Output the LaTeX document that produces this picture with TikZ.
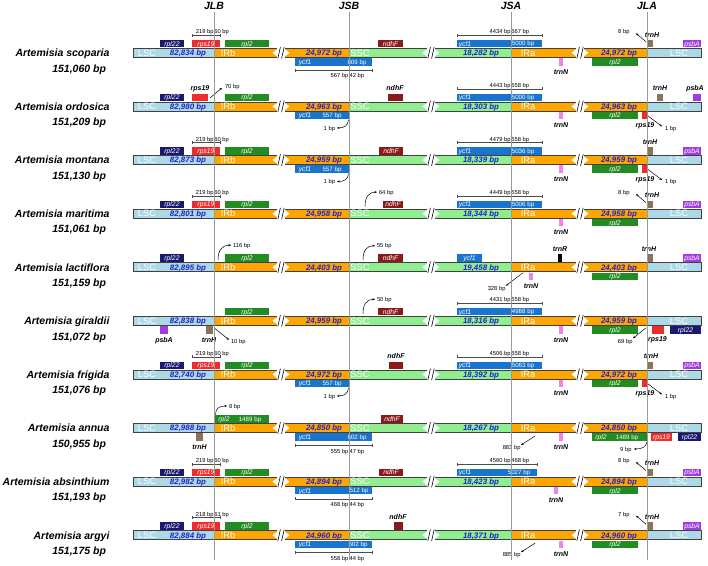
\documentclass[tikz,border=0pt]{standalone}
\usepackage{fontspec}
\setmainfont{Liberation Sans}
\usetikzlibrary{arrows.meta}
\definecolor{cLSC}{HTML}{ADD8E6}
\definecolor{cIR}{HTML}{FFA500}
\definecolor{cSSC}{HTML}{90EE90}
\definecolor{cval}{HTML}{2020D0}
\definecolor{crpl22}{HTML}{191970}
\definecolor{crps19}{HTML}{EE2C2C}
\definecolor{crpl2}{HTML}{228B22}
\definecolor{cycf}{HTML}{1874CD}
\definecolor{cndhF}{HTML}{8B1A1A}
\definecolor{ctrnN}{HTML}{EE82EE}
\definecolor{ctrnH}{HTML}{8B7355}
\definecolor{cpsbA}{HTML}{A03CE0}
\tikzset{
 every node/.style={inner sep=0pt, outer sep=0pt},
 sp/.style={font=\fontsize{10.5}{12}\selectfont\bfseries\itshape, anchor=base east},
 jl/.style={font=\fontsize{10.5}{12}\selectfont\bfseries\itshape, anchor=base},
 reg/.style={text=white, font=\fontsize{9.3}{10}\selectfont, text height=6.7pt, text depth=0pt},
 val/.style={text=cval, font=\fontsize{7.9}{9}\selectfont\bfseries\itshape, text height=5.7pt, text depth=0pt},
 gl/.style={text=white, font=\fontsize{6.8}{8}\selectfont\itshape, text height=4.9pt, text depth=0pt},
 gw/.style={text=white, font=\fontsize{6.2}{7}\selectfont, text height=4.5pt, text depth=0pt},
 gn/.style={font=\fontsize{7}{8}\selectfont\bfseries\itshape, text height=5pt, text depth=0pt},
 bpl/.style={font=\fontsize{5.8}{7}\selectfont, text height=4.2pt, text depth=0pt},
 barline/.style={draw=black!75, line width=0.8pt},
 dimln/.style={draw=black!70, line width=0.45pt},
 arr/.style={draw=black, line width=0.5pt, -{Stealth[length=2.6pt,width=2.2pt]}},
 jline/.style={draw=black!40, line width=0.8pt},
 brkline/.style={draw=black, line width=0.6pt},
}
\newcommand\Brk[1]{%
 \fill[white] (#1-4,-5.3) rectangle (#1+4,5.3);
 \fill[white] (#1-4,-3.4) -- (#1-8.5,0) -- (#1-4,3.4) -- cycle;
 \fill[white] (#1+4,-3.4) -- (#1+8.5,0) -- (#1+4,3.4) -- cycle;
 \draw[brkline] (#1-3.2,5.8) -- (#1-0.6,-5.8) (#1+0.6,5.8) -- (#1+3.2,-5.8);}
\newcommand\Bar[4]{%
 \fill[cLSC] (133,-4.5) rectangle (214,4.5);
 \fill[cIR] (214,-4.5) rectangle (349,4.5);
 \fill[cSSC] (349,-4.5) rectangle (511,4.5);
 \fill[cIR] (511,-4.5) rectangle (647,4.5);
 \fill[cLSC] (647,-4.5) rectangle (701,4.5);
 \draw[barline] (133,-4.5) rectangle (701,4.5);
 \Brk{281}\Brk{431}\Brk{580}
 \node[reg] at (147,0) {LSC}; \node[val] at (188,0) {#1};
 \node[reg] at (228,0) {IRb}; \node[val] at (324,0) {#2};
 \node[reg] at (360,0) {SSC}; \node[val] at (481,0) {#3};
 \node[reg] at (528,0) {IRa}; \node[val] at (619,0) {#4};
 \node[reg] at (679,0) {LSC};}
\newcommand\Sp[2]{\node[sp] at (109.5,3.8) {#1}; \node[sp] at (106,19.3) {#2};}
\newcommand\GA[4]{\fill[#3] (#1,-12.8) rectangle (#2,-5.4); \node[gl] at ({(#1+#2)/2},-9.1) {#4};}
\newcommand\GB[4]{\fill[#3] (#1,5.4) rectangle (#2,12.8); \node[gl] at ({(#1+#2)/2},9.1) {#4};}
\newcommand\DT[5]{%
 \draw[dimln] (#1,-17.5) -- (#3,-17.5) (#1,-19) -- (#1,-16) (#3,-19) -- (#3,-16) (#2,-18.5) -- (#2,-16.5);
 \node[bpl,anchor=base east] at (#2-0.4,-19) {#4};
 \node[bpl,anchor=base west] at (#2+0.4,-19) {#5};}
\newcommand\DB[5]{%
 \draw[dimln] (#1,17.2) -- (#3,17.2) (#1,15.7) -- (#1,18.7) (#3,15.7) -- (#3,18.7) (#2,15.7) -- (#2,18.7);
 \node[bpl,anchor=base east] at (#2-0.6,25) {#4};
 \node[bpl,anchor=base west] at (#2+0.6,25) {#5};}
\newcommand\YB[3]{\fill[cycf] (295,5.4) rectangle (#1,12.8); \node[gl] at (305,9.1) {ycf1}; \node[gw] at (#3,9.1) {#2};}
\newcommand\YA[3]{\fill[cycf] (457,-12.8) rectangle (#1,-5.4); \node[gl] at (465,-9.1) {ycf1}; \node[gw] at (#3,-9.1) {#2};}
\newcommand\TN[2]{\fill[ctrnN] (#1,5.4) rectangle (#2,12.8); \node[gn] at ({(#1+#2)/2},18.8) {trnN};}
\newcommand\LeftStd[2]{%
 \GA{160}{184}{crpl22}{rpl22}
 \GA{192}{220}{crps19}{rps19}
 \GA{225}{269}{crpl2}{rpl2}
 \DT{192}{214}{220}{#1}{#2}}
\newcommand\OneBp{\draw[arr] (348.5,13.5) .. controls (348,19.5) and (344,21.5) .. (337,21.5); \node[bpl,anchor=east] at (335,21.5) {1 bp};}
\newcommand\RpsR{\GB{642}{647}{crps19}{} \node[gn] at (645,18.8) {rps19};
 \draw[arr] (648,9.5) -- (662,20); \node[bpl,anchor=west] at (665,21.6) {1 bp};}
\newcommand\TrnHArr[1]{\GA{647}{653}{ctrnH}{} \node[gn] at (652,-18.2) {trnH};
 \draw[arr] (646,-11) -- (636,-19.5); \node[bpl,anchor=east] at (629.5,-21.3) {#1};}
\newcommand\PsbA{\GA{683}{701}{cpsbA}{psbA}}
\newcommand\RplR{\GB{592}{638}{crpl2}{rpl2}}
\begin{document}
\begin{tikzpicture}[x=1pt,y=-1pt]
\useasboundingbox (0,0) rectangle (708,565);
\fill[white] (0,0) rectangle (708,565);
\node[jl] (jlb) at (214,9.5) {JLB};
\node[jl] (jsb) at (349,9.5) {JSB};
\node[jl] (jsa) at (511,9.5) {JSA};
\node[jl] (jla) at (647,9.5) {JLA};
% Row 1
\begin{scope}[shift={(0,52.8)}]
\Sp{Artemisia scoparia}{151,060 bp}
\Bar{82,834 bp}{24,972 bp}{18,282 bp}{24,972 bp}
\LeftStd{219 bp}{60 bp}
\YB{372}{609 bp}{357}
\DB{295}{349}{372}{567 bp}{42 bp}
\GA{378}{403}{cndhF}{ndhF}
\YA{542}{5000 bp}{523}
\DT{457}{511}{542}{4434 bp}{567 bp}
\TN{559}{563}
\RplR
\TrnHArr{8 bp}
\PsbA
\end{scope}
% Row 2
\begin{scope}[shift={(0,106.4)}]
\Sp{Artemisia ordosica}{151,209 bp}
\Bar{82,980 bp}{24,963 bp}{18,303 bp}{24,963 bp}
\GA{160}{184}{crpl22}{rpl22}
\GA{192}{208}{crps19}{}
\node[gn] at (200,-18.2) {rps19};
\draw[arr] (210,-8.5) -- (222,-18.5); \node[bpl,anchor=west] at (225,-20) {70 bp};
\GA{225}{269}{crpl2}{rpl2}
\YB{349}{557 bp}{332}
\OneBp
\GA{388}{403}{cndhF}{} \node[gn] at (395,-18.2) {ndhF};
\YA{542}{5000 bp}{523}
\DT{457}{511}{542}{4443 bp}{558 bp}
\TN{559}{563}
\RplR
\RpsR
\GA{657}{663}{ctrnH}{} \node[gn] at (660,-18.2) {trnH};
\GA{693}{701}{cpsbA}{} \node[gn] at (695,-18.2) {psbA};
\end{scope}
% Row 3
\begin{scope}[shift={(0,160)}]
\Sp{Artemisia montana}{151,130 bp}
\Bar{82,873 bp}{24,959 bp}{18,339 bp}{24,959 bp}
\LeftStd{219 bp}{60 bp}
\YB{349}{557 bp}{332}
\OneBp
\GA{379}{403}{cndhF}{ndhF}
\YA{542}{5036 bp}{523}
\DT{457}{511}{542}{4479 bp}{558 bp}
\TN{559}{563}
\RplR
\RpsR
\GA{647}{653}{ctrnH}{} \node[gn] at (650,-18.2) {trnH};
\PsbA
\end{scope}
% Row 4
\begin{scope}[shift={(0,213.6)}]
\Sp{Artemisia maritima}{151,061 bp}
\Bar{82,801 bp}{24,958 bp}{18,344 bp}{24,958 bp}
\LeftStd{219 bp}{60 bp}
\GA{383}{403}{cndhF}{ndhF}
\draw[arr] (365,-7) .. controls (365,-17) and (369,-21.5) .. (377,-21.5); \node[bpl,anchor=west] at (379,-21.5) {64 bp};
\YA{542}{5006 bp}{523}
\DT{457}{511}{542}{4449 bp}{558 bp}
\TN{559}{563}
\RplR
\TrnHArr{8 bp}
\PsbA
\end{scope}
% Row 5
\begin{scope}[shift={(0,267.2)}]
\Sp{Artemisia lactiflora}{151,159 bp}
\Bar{82,895 bp}{24,403 bp}{19,458 bp}{24,403 bp}
\GA{160}{184}{crpl22}{rpl22}
\GA{225}{269}{crpl2}{rpl2}
\draw[arr] (218,-7) .. controls (218,-17) and (222,-22) .. (231,-22); \node[bpl,anchor=west] at (233,-22) {116 bp};
\GA{378}{403}{cndhF}{ndhF}
\draw[arr] (363,-7) .. controls (363,-17) and (367,-21.5) .. (375,-21.5); \node[bpl,anchor=west] at (377,-21.5) {55 bp};
\GA{457}{482}{cycf}{ycf1}
\GA{558}{562}{black}{} \node[gn] at (560,-18.2) {trnR};
\GA{647}{653}{ctrnH}{} \node[gn] at (649,-18.2) {trnH};
\PsbA
\GB{529}{533}{ctrnN}{} \node[gn] at (531,18.8) {trnN};
\draw[arr] (523,5.5) -- (506,18.5); \node[bpl,anchor=east] at (505.5,21) {328 bp};
\RplR
\end{scope}
% Row 6
\begin{scope}[shift={(0,320.8)}]
\Sp{Artemisia giraldii}{151,072 bp}
\Bar{82,838 bp}{24,959 bp}{18,316 bp}{24,959 bp}
\GA{225}{269}{crpl2}{rpl2}
\GB{160}{168}{cpsbA}{} \node[gn] at (164,18.8) {psbA};
\GB{206}{213}{ctrnH}{} \node[gn] at (209,18.8) {trnH};
\draw[arr] (214,7) -- (229,19); \node[bpl,anchor=west] at (231,20.5) {10 bp};
\GA{378}{403}{cndhF}{ndhF}
\draw[arr] (363,-7) .. controls (363,-17) and (367,-21.5) .. (375,-21.5); \node[bpl,anchor=west] at (377,-21.5) {50 bp};
\YA{542}{4988 bp}{523}
\DT{457}{511}{542}{4431 bp}{558 bp}
\TN{559}{563}
\RplR
\GB{652}{664}{crps19}{} \node[gn] at (657.5,18.5) {rps19};
\draw[arr] (646,7) -- (633,17.5); \node[bpl,anchor=east] at (632.5,21) {69 bp};
\GB{670}{701}{crpl22}{rpl22}
\end{scope}
% Row 7
\begin{scope}[shift={(0,374.4)}]
\Sp{Artemisia frigida}{151,076 bp}
\Bar{82,740 bp}{24,972 bp}{18,392 bp}{24,972 bp}
\LeftStd{219 bp}{60 bp}
\YB{349}{557 bp}{332}
\OneBp
\GA{389}{403}{cndhF}{} \node[gn] at (396,-18.2) {ndhF};
\YA{542}{5063 bp}{523}
\DT{457}{511}{542}{4506 bp}{558 bp}
\TN{559}{563}
\RplR
\RpsR
\GA{647}{653}{ctrnH}{} \node[gn] at (651,-18.2) {trnH};
\PsbA
\end{scope}
% Row 8
\begin{scope}[shift={(0,428)}]
\Sp{Artemisia annua}{150,955 bp}
\Bar{82,988 bp}{24,850 bp}{18,267 bp}{24,850 bp}
\GA{214}{269}{crpl2}{} \node[gl] at (224,-9.1) {rpl2}; \node[gw] at (250,-9.1) {1489 bp};
\draw[arr] (215.5,-13.5) .. controls (215.5,-19.5) and (219,-22) .. (227,-22); \node[bpl,anchor=west] at (229,-22) {8 bp};
\GB{196}{203}{ctrnH}{} \node[gn] at (199.5,18.8) {trnH};
\YB{372}{602 bp}{357}
\DB{295}{349}{372}{555 bp}{47 bp}
\GA{381}{403}{cndhF}{ndhF}
\draw[arr] (535,8) -- (521,17); \node[bpl,anchor=east] at (520.5,19.5) {883 bp};
\TN{559}{563}
\GB{592}{647}{crpl2}{} \node[gl] at (601,9.1) {rpl2}; \node[gw] at (627,9.1) {1489 bp};
\GB{651}{672}{crps19}{rps19}
\GB{678}{701}{crpl22}{rpl22}
\draw[arr] (647,13.5) .. controls (646.5,19) and (642,21) .. (634,21); \node[bpl,anchor=east] at (631.5,21) {9 bp};
\end{scope}
% Row 9
\begin{scope}[shift={(0,481.6)}]
\Sp{Artemisia absinthium}{151,193 bp}
\Bar{82,982 bp}{24,894 bp}{18,423 bp}{24,894 bp}
\LeftStd{219 bp}{60 bp}
\YB{372}{512 bp}{359}
\DB{295}{349}{372}{468 bp}{44 bp}
\GA{379}{403}{cndhF}{ndhF}
\YA{537}{5027 bp}{519}
\DT{457}{511}{537}{4560 bp}{468 bp}
\TN{554}{558}
\RplR
\TrnHArr{8 bp}
\PsbA
\end{scope}
% Row 10
\begin{scope}[shift={(0,535.2)}]
\Sp{Artemisia argyi}{151,175 bp}
\Bar{82,884 bp}{24,960 bp}{18,371 bp}{24,960 bp}
\LeftStd{218 bp}{61 bp}
\YB{372}{602 bp}{358}
\DB{295}{349}{372}{558 bp}{44 bp}
\GA{394}{403}{cndhF}{} \node[gn] at (398,-18.2) {ndhF};
\draw[arr] (535,8) -- (521,17); \node[bpl,anchor=east] at (520.5,19.5) {885 bp};
\TN{559}{563}
\RplR
\TrnHArr{7 bp}
\PsbA
\end{scope}
% junction lines
\draw[jline] (jlb.south) ++(0,2.5) -- (214,560);
\draw[jline] (jsb.south) ++(0,2.5) -- (349,560);
\draw[jline] (jsa.south) ++(0,2.5) -- (511,560);
\draw[jline] (jla.south) ++(0,2.5) -- (647,560);
\end{tikzpicture}
\end{document}
